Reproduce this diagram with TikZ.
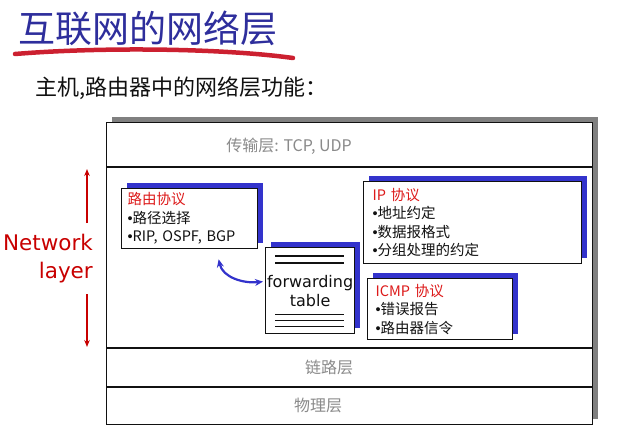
\documentclass[tikz,border=0pt]{standalone}
\usepackage{fontspec}
\setmainfont{Noto Sans CJK SC}
\newfontfamily\handfont{DejaVu Sans}
\newfontfamily\dotfont{Liberation Sans}
\usetikzlibrary{arrows.meta,shadows}
\definecolor{titleblue}{HTML}{2E2E9C}
\definecolor{markred}{HTML}{CC2030}
\definecolor{proto}{HTML}{DD1A1A}
\definecolor{netred}{HTML}{C80000}
\definecolor{boxshadow}{HTML}{3333CC}
\definecolor{stackshadow}{HTML}{808080}
\definecolor{layergray}{HTML}{8A8A8A}
\definecolor{ink}{HTML}{111111}
\newcommand{\itemdot}{{\dotfont •}}

\begin{document}
\begin{tikzpicture}[x=1pt, y=-1pt, ink,
  fs/.style 2 args={font=\fontsize{#1}{#2}\selectfont},
  protobox/.style={draw=ink, line width=1.3pt, fill=white, anchor=north west,
                   align=left, inner ysep=0pt, fs={14.5}{18.5},
                   copy shadow={shadow xshift=5pt, shadow yshift=6pt, fill=boxshadow, draw=none}},
  stackbox/.style={draw=ink, line width=1.3pt, fill=white, anchor=north west,
                   copy shadow={shadow xshift=5pt, shadow yshift=6pt, fill=stackshadow, draw=none}},
  layertext/.style={text=layergray, fs={16}{18}, inner sep=0pt},
  netarrow/.style={-{Stealth[length=7pt,width=5.5pt]}, line width=2.2pt, netred},
  linkarrow/.style={{Stealth[length=8pt,width=7pt]}-{Stealth[length=8pt,width=7pt]},
                    line width=2.2pt, boxshadow}]
\useasboundingbox (0,0) rectangle (635,439);

% title
\node[anchor=west, inner sep=0pt, text=titleblue, fs={37}{40}] (title) at (18,28) {互联网的网络层};
\draw[markred, line width=4.5pt, line cap=round] (15,54) .. controls (100,47) and (220,48) .. (293,58);
\node[anchor=west, inner sep=0pt, fs={22}{24}] (subtitle) at (35,88) {主机,路由器中的网络层功能：};

% protocol stack
\node[stackbox, minimum width=486pt, minimum height=302pt] (stack) at (106,122) {};
\foreach \d in {45,226,265}
  \draw[line width=1.3pt] ([yshift=-\d pt]stack.north west) -- ([yshift=-\d pt]stack.north east);
\node[layertext] (transport) at (289,146) {传输层: TCP, UDP};
\node[layertext] (link) at (329,367) {链路层};
\node[layertext] (physical) at (318,405) {物理层};

% network layer label
\node[anchor=east, align=right, inner sep=0pt, text=netred, font=\handfont\fontsize{21.5}{28}\selectfont]
  (netlabel) at (93,259) {Network\\layer};
\coordinate (netup0) at (87,223);
\coordinate (netup1) at (87,169);
\coordinate (netdn0) at (87,294);
\coordinate (netdn1) at (87,347);
\draw[netarrow] (netup0) -- (netup1);
\draw[netarrow] (netdn0) -- (netdn1);

% protocol boxes
\node[protobox, minimum width=136pt, minimum height=60pt, inner xsep=6pt, text width=124pt]
  (routing) at (121,188) {\textcolor{proto}{路由协议}\\\itemdot 路径选择\\\itemdot RIP, OSPF, BGP};
\node[protobox, minimum width=218pt, minimum height=82pt, inner xsep=9pt, text width=200pt]
  (ip) at (363,181) {\textcolor{proto}{IP 协议}\\\itemdot 地址约定\\\itemdot 数据报格式\\\itemdot 分组处理的约定};
\node[protobox, minimum width=145pt, minimum height=61pt, inner xsep=8pt, text width=129pt]
  (icmp) at (367,278) {\textcolor{proto}{ICMP 协议}\\\itemdot 错误报告\\\itemdot 路由器信令};

% forwarding table
\node[protobox, align=center, minimum width=89pt, minimum height=86pt, inner xsep=0pt, text width=89pt,
      font=\handfont\fontsize{16}{19}\selectfont] (fwd) at (265,247) {forwarding\\table};
\draw[line width=2pt] ([xshift=10pt,yshift=-9pt]fwd.north west) -- ([xshift=-11pt,yshift=-9pt]fwd.north east);
\draw[line width=1.3pt] ([xshift=10pt,yshift=-16pt]fwd.north west) -- ([xshift=-11pt,yshift=-16pt]fwd.north east);
\foreach \d in {20,14,8}
  \draw[line width=1.3pt] ([xshift=10pt,yshift=\d pt]fwd.south west) -- ([xshift=-11pt,yshift=\d pt]fwd.south east);

% routing <-> forwarding
\coordinate (link0) at ([xshift=29pt,yshift=-10pt]routing.south);
\coordinate (link1) at ([xshift=-2pt,yshift=9pt]fwd.west);
\draw[linkarrow] (link0) .. controls +(4,18) and +(-20,2) .. (link1);

\end{tikzpicture}
\end{document}
